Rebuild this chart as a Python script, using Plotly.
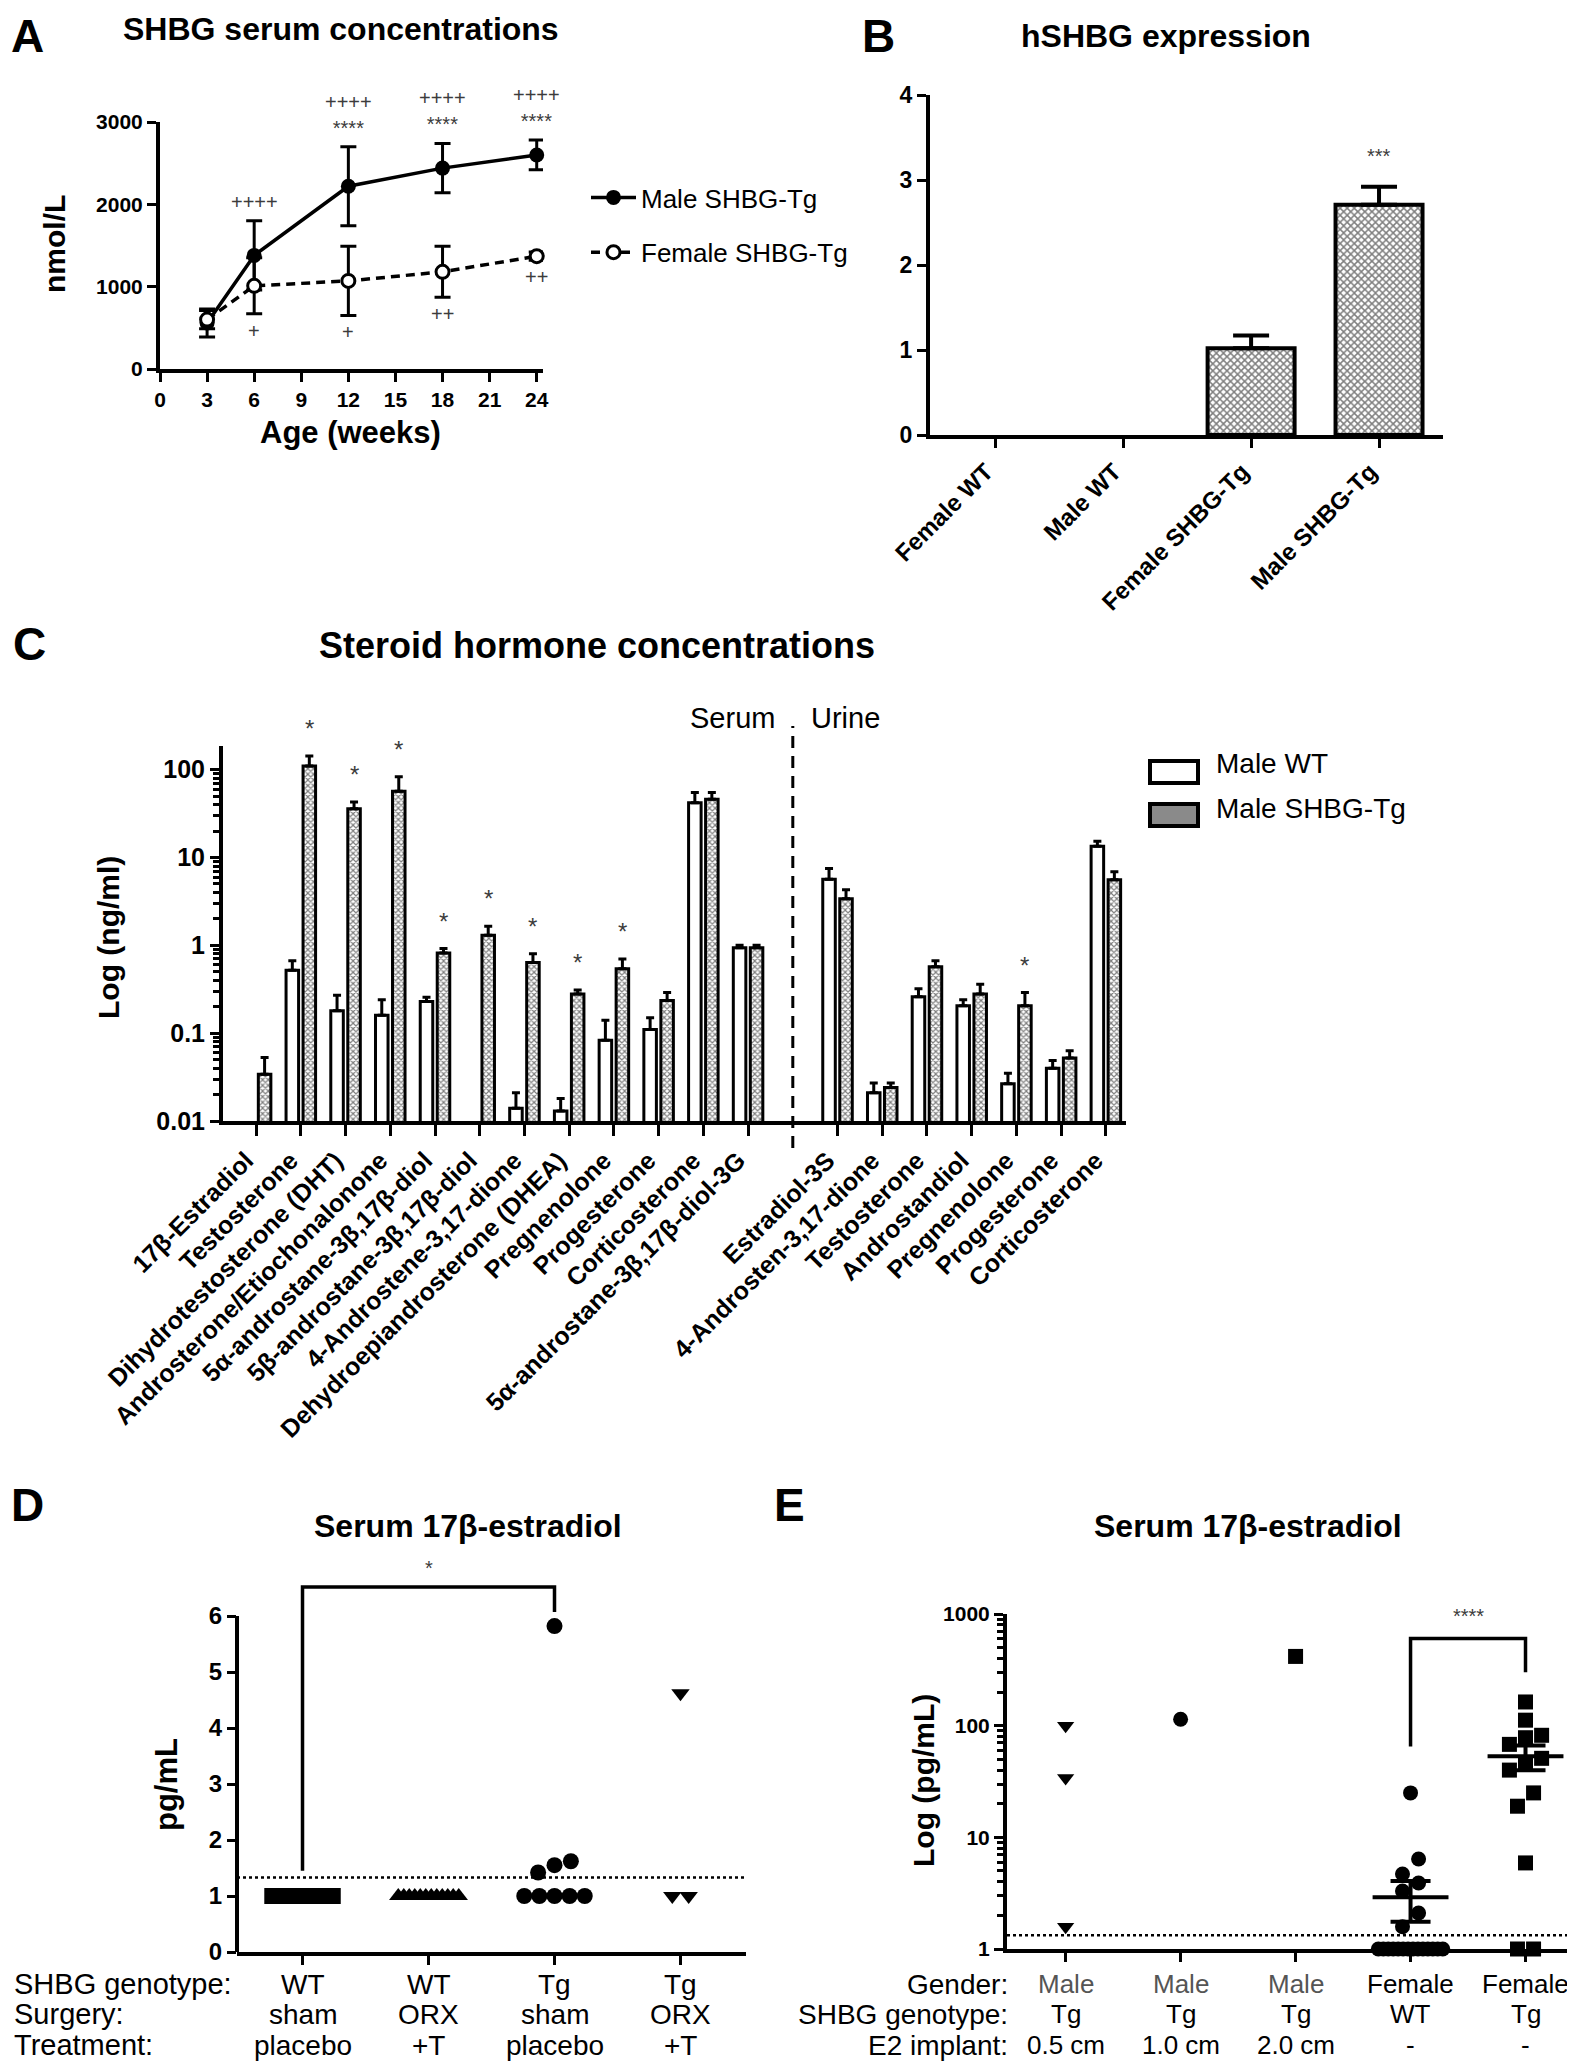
import numpy as np
import plotly.graph_objects as go

W, H = 1575, 2069
FONT = "Liberation Sans"
INK = "#000000"
SIG = "#3c3c3c"

# ================= DATA =================
# --- Panel A: SHBG serum concentrations ---
age_weeks = [3, 6, 12, 18, 24]
male_tg_shbg = [560, 1380, 2220, 2440, 2600]
male_tg_shbg_sem = [170, 420, 480, 300, 180]
female_tg_shbg = [600, 1010, 1070, 1180, 1370]
female_tg_shbg_sem = [110, 340, 420, 310, 50]
male_marks = ["", "++++", "++++<br>****", "++++<br>****", "++++<br>****"]
female_marks = ["", "+", "+", "++", "++"]
age_ticks = [0, 3, 6, 9, 12, 15, 18, 21, 24]
shbg_ticks = [0, 1000, 2000, 3000]

# --- Panel B: hSHBG expression ---
expr_groups = ["Female WT", "Male WT", "Female SHBG-Tg", "Male SHBG-Tg"]
expr_values = [None, None, 1.02, 2.71]
expr_sem = [None, None, 0.15, 0.21]
expr_marks = ["", "", "", "***"]
expr_ticks = [0, 1, 2, 3, 4]

# --- Panel C: steroid hormone concentrations (ng/ml) ---
serum_names = ["17β-Estradiol", "Testosterone", "Dihydrotestosterone (DHT)",
               "Androsterone/Etiochonalonone", "5α-androstane-3β,17β-diol",
               "5β-androstane-3β,17β-diol", "4-Androstene-3,17-dione",
               "Dehydroepiandrosterone (DHEA)", "Pregnenolone", "Progesterone",
               "Corticosterone", "5α-androstane-3β,17β-diol-3G"]
serum_wt = [None, 0.52, 0.18, 0.16, 0.23, None, 0.014, 0.013, 0.083, 0.11, 42, 0.94]
serum_wt_sem = [None, 0.15, 0.09, 0.08, 0.026, None, 0.007, 0.005, 0.057, 0.04, 13, 0.06]
serum_tg = [0.034, 110, 36, 57, 0.82, 1.3, 0.64, 0.28, 0.54, 0.235, 46, 0.94]
serum_tg_sem = [0.019, 33, 7, 26, 0.1, 0.35, 0.16, 0.03, 0.16, 0.055, 9, 0.06]
serum_marks = ["", "*", "*", "*", "*", "*", "*", "*", "*", "", "", ""]
urine_names = ["Estradiol-3S", "4-Androsten-3,17-dione", "Testosterone", "Androstandiol",
               "Pregnenolone", "Progesterone", "Corticosterone"]
urine_wt = [5.65, 0.021, 0.26, 0.205, 0.0265, 0.04, 13.4]
urine_wt_sem = [1.85, 0.006, 0.06, 0.035, 0.0085, 0.009, 1.9]
urine_tg = [3.4, 0.024, 0.57, 0.28, 0.205, 0.052, 5.6]
urine_tg_sem = [0.9, 0.003, 0.1, 0.08, 0.085, 0.011, 1.3]
urine_marks = ["", "", "", "", "*", "", ""]
conc_ticks = [0.01, 0.1, 1, 10, 100]
conc_tick_text = ["0.01", "0.1", "1", "10", "100"]
conc_series = ["Male WT", "Male SHBG-Tg"]

# --- Panel D: serum 17beta-estradiol (pg/mL) ---
d_genotype = ["WT", "WT", "Tg", "Tg"]
d_surgery = ["sham", "ORX", "sham", "ORX"]
d_treatment = ["placebo", "+T", "placebo", "+T"]
d_wt_sham = [1.0] * 12
d_wt_orx = [1.0] * 12
d_tg_sham = [1.0, 1.0, 1.0, 1.0, 1.0, 1.42, 1.55, 1.62, 5.82]
d_tg_orx = [1.0, 1.0, 4.62]
d_ticks = [0, 1, 2, 3, 4, 5, 6]
detection_limit = 1.33

# --- Panel E: serum 17beta-estradiol (pg/mL, log) ---
e_gender = ["Male", "Male", "Male", "Female", "Female"]
e_genotype = ["Tg", "Tg", "Tg", "WT", "Tg"]
e_implant = ["0.5 cm", "1.0 cm", "2.0 cm", "-", "-"]
e_male_05 = [100, 34, 1.58]
e_male_10 = [114]
e_male_20 = [417]
e_female_wt = [1.0] * 14 + [1.58, 2.1, 3.3, 3.9, 4.7, 6.4, 25]
e_female_tg = [1.0, 1.0, 5.9, 19, 25, 40, 45, 51, 68, 78, 82, 112, 163]
e_ticks = [1, 10, 100, 1000]

# ================= HELPERS =================
def X(p):
    return p / W


def Y(p):
    return 1 - p / H


def swarm(values, center, d, maxw, thresh, log=False):
    v = np.asarray(values, float)
    t = np.log10(v) if log else v
    order = np.argsort(t, kind="stable")
    xs = np.zeros(len(v))
    rows, cur = [], [order[0]]
    for i in order[1:]:
        if t[i] - t[cur[0]] < thresh:
            cur.append(i)
        else:
            rows.append(cur)
            cur = [i]
    rows.append(cur)
    for r in rows:
        n = len(r)
        w = min((n - 1) * d, maxw)
        offs = np.linspace(-w / 2, w / 2, n) if n > 1 else [0.0]
        for k, i in enumerate(r):
            xs[i] = center + offs[k]
    return xs


def axis(**kw):
    d = dict(showgrid=False, zeroline=False, showline=True, linecolor=INK, linewidth=4,
             ticks="outside", ticklen=9, tickwidth=3, tickcolor=INK, automargin=False,
             tickfont=dict(family=FONT, size=21, color=INK, weight="bold"), fixedrange=True)
    d.update(kw)
    return d


annotations = []


def text(t, x, y, size, bold=False, xref="paper", yref="paper", xa="center", ya="middle",
         angle=0, color=INK, xshift=0, yshift=0):
    annotations.append(dict(text=t, x=x, y=y, xref=xref, yref=yref, xanchor=xa, yanchor=ya,
                            textangle=angle, showarrow=False, xshift=xshift, yshift=yshift,
                            font=dict(family=FONT, size=size, color=color,
                                      weight="bold" if bold else "normal")))


fig = go.Figure()
shapes = []

# ================= PANEL A =================
err_style = dict(type="data", thickness=3, width=8, color=INK)
fig.add_trace(go.Scatter(
    x=age_weeks, y=male_tg_shbg, error_y=dict(array=male_tg_shbg_sem, **err_style),
    mode="lines+markers", line=dict(color=INK, width=3.5),
    marker=dict(symbol="circle", size=15, color=INK),
    name="Male SHBG-Tg", legendgroup="m", xaxis="x", yaxis="y", cliponaxis=False))
fig.add_trace(go.Scatter(
    x=age_weeks, y=female_tg_shbg, error_y=dict(array=female_tg_shbg_sem, **err_style),
    mode="lines+markers", line=dict(color=INK, width=3.5, dash="9px,6px"),
    marker=dict(symbol="circle", size=13, color="white", line=dict(color=INK, width=3)),
    name="Female SHBG-Tg", legendgroup="f", xaxis="x", yaxis="y", cliponaxis=False))
for xv, yv, ev, lab in zip(age_weeks, male_tg_shbg, male_tg_shbg_sem, male_marks):
    if lab:
        text(lab, xv, yv + ev, 20, xref="x", yref="y", ya="bottom", color=SIG, yshift=6)
for xv, yv, ev, lab in zip(age_weeks, female_tg_shbg, female_tg_shbg_sem, female_marks):
    if lab:
        text(lab, xv, yv - ev, 20, xref="x", yref="y", ya="top", color=SIG, yshift=-4)

# ================= PANEL B =================
pattern = dict(shape="x", size=5, solidity=0.5, fgcolor=INK, bgcolor="white")
fig.add_trace(go.Bar(
    x=list(range(len(expr_groups))), y=expr_values, width=0.68,
    marker=dict(color="white", line=dict(color=INK, width=4), pattern=pattern),
    error_y=dict(type="data", array=expr_sem, arrayminus=[0] * 4, symmetric=False,
                 thickness=4, width=18, color=INK),
    showlegend=False, xaxis="x2", yaxis="y2"))
for i, (v, e, lab) in enumerate(zip(expr_values, expr_sem, expr_marks)):
    if lab:
        text(lab, i, v + e, 20, xref="x2", yref="y2", ya="bottom", color=SIG, yshift=18)

# ================= PANEL C =================
c_x = list(range(len(serum_names))) + list(range(len(serum_names) + 1,
                                                  len(serum_names) + 1 + len(urine_names)))
c_names = serum_names + urine_names
wt_off, tg_off, bw = -0.33, 0.05, 0.28
tg_pattern = dict(shape="x", size=4, solidity=0.5, fgcolor=INK, bgcolor="white")
fig.add_trace(go.Bar(
    x=c_x, y=serum_wt + urine_wt, offset=wt_off, width=bw,
    marker=dict(color="white", line=dict(color=INK, width=3)),
    error_y=dict(type="data", array=serum_wt_sem + urine_wt_sem, arrayminus=[0] * len(c_x),
                 symmetric=False, thickness=3, width=4, color=INK),
    name=conc_series[0], showlegend=False, xaxis="x3", yaxis="y3"))
fig.add_trace(go.Bar(
    x=c_x, y=serum_tg + urine_tg, offset=tg_off, width=bw,
    marker=dict(color="white", line=dict(color=INK, width=3), pattern=tg_pattern),
    error_y=dict(type="data", array=serum_tg_sem + urine_tg_sem, arrayminus=[0] * len(c_x),
                 symmetric=False, thickness=3, width=4, color=INK),
    name=conc_series[1], showlegend=False, xaxis="x3", yaxis="y3"))
for xv, v, e, lab in zip(c_x, serum_tg + urine_tg, serum_tg_sem + urine_tg_sem,
                         serum_marks + urine_marks):
    if lab:
        text(lab, xv + tg_off + bw / 2, np.log10(v + e), 24, xref="x3", yref="y3",
             ya="bottom", color=SIG, yshift=12)
divider = len(serum_names)
shapes.append(dict(type="line", xref="x3", yref="paper", x0=divider, x1=divider,
                   y0=Y(1140), y1=Y(718), line=dict(color=INK, width=3, dash="12px,8px")))
text("Serum", divider, Y(710), 29, xref="x3", xa="right", ya="middle", xshift=-16)
text("Urine", divider, Y(710), 29, xref="x3", xa="left", ya="middle", xshift=16)
c_minor = [k * 10.0 ** e for e in range(-2, 3) for k in range(2, 10) if k * 10.0 ** e < 185]
# legend for panel C (swatches)
shapes.append(dict(type="rect", xref="paper", yref="paper", x0=X(1142), x1=X(1190),
                   y0=Y(775), y1=Y(753), fillcolor="white", line=dict(color=INK, width=4)))
shapes.append(dict(type="rect", xref="paper", yref="paper", x0=X(1142), x1=X(1190),
                   y0=Y(818), y1=Y(796), fillcolor="#8a8a8a", line=dict(color=INK, width=4)))
text(conc_series[0], X(1206), Y(756), 28, xa="left")
text(conc_series[1], X(1206), Y(800), 28, xa="left")

# ================= PANEL D =================
d_groups = [d_wt_sham, d_wt_orx, d_tg_sham, d_tg_orx]
d_symbols = ["square", "triangle-up", "circle", "triangle-down"]
for i, (vals, sym) in enumerate(zip(d_groups, d_symbols)):
    xs = swarm(vals, i, d=0.13, maxw=0.48, thresh=0.28)
    fig.add_trace(go.Scatter(x=xs, y=vals, mode="markers",
                             marker=dict(symbol=sym, size=16, color=INK, line=dict(width=0)),
                             showlegend=False, xaxis="x4", yaxis="y4", cliponaxis=False))
fig.add_trace(go.Scatter(x=[-0.52, 3.52], y=[detection_limit] * 2, mode="lines",
                         line=dict(color=INK, width=2.5, dash="dot"), showlegend=False,
                         xaxis="x4", yaxis="y4"))
d_right = max(d_tg_sham) + 0.25
d_top = d_right + 0.45
d_left = max(d_wt_sham) + 0.45
fig.add_trace(go.Scatter(x=[0, 0, 2, 2], y=[d_left, d_top, d_top, d_right], mode="lines",
                         line=dict(color=INK, width=3.5), showlegend=False,
                         xaxis="x4", yaxis="y4"))
text("*", 1, d_top, 20, xref="x4", yref="y4", ya="bottom", color=SIG, yshift=6)
shapes.append(dict(type="line", xref="x4 domain", yref="y4", x0=0, x1=0, y0=0, y1=max(d_ticks),
                   line=dict(color=INK, width=4)))

# ================= PANEL E =================
e_groups = [e_male_05, e_male_10, e_male_20, e_female_wt, e_female_tg]
e_symbols = ["triangle-down", "circle", "square", "circle", "square"]
for i, (vals, sym) in enumerate(zip(e_groups, e_symbols)):
    xs = swarm(vals, i, d=0.14, maxw=0.56, thresh=0.14, log=True)
    fig.add_trace(go.Scatter(x=xs, y=vals, mode="markers",
                             marker=dict(symbol=sym, size=15, color=INK, line=dict(width=0)),
                             showlegend=False, xaxis="x5", yaxis="y5", cliponaxis=False))
for i in (3, 4):
    vals = np.asarray(e_groups[i], float)
    m = vals.mean()
    sem = vals.std(ddof=1) / np.sqrt(len(vals))
    fig.add_trace(go.Scatter(x=[i - 0.33, i + 0.33], y=[m, m], mode="lines",
                             line=dict(color=INK, width=4), showlegend=False,
                             xaxis="x5", yaxis="y5"))
    fig.add_trace(go.Scatter(x=[i], y=[m], mode="markers",
                             marker=dict(size=1, color="rgba(0,0,0,0)"),
                             error_y=dict(type="data", array=[sem], thickness=4, width=20,
                                          color=INK),
                             showlegend=False, xaxis="x5", yaxis="y5"))
fig.add_trace(go.Scatter(x=[-0.51, 4.5], y=[detection_limit] * 2, mode="lines",
                         line=dict(color=INK, width=2.5, dash="dot"), showlegend=False,
                         xaxis="x5", yaxis="y5"))
e_right = max(e_female_tg) * 1.85
e_top = e_right * 2.0
e_left = max(e_female_wt) * 2.6
fig.add_trace(go.Scatter(x=[3, 3, 4, 4], y=[e_left, e_top, e_top, e_right], mode="lines",
                         line=dict(color=INK, width=3.5), showlegend=False,
                         xaxis="x5", yaxis="y5"))
text("****", 3.5, np.log10(e_top), 20, xref="x5", yref="y5", ya="bottom", color=SIG, yshift=10)
e_minor = [k * 10.0 ** e for e in range(0, 3) for k in range(2, 10)]

# ================= TEXT =================
# panel letters
text("A", X(1), Y(0), 46, bold=True, xa="left", ya="top")
text("B", X(852), Y(0), 46, bold=True, xa="left", ya="top")
text("C", X(3), Y(608), 46, bold=True, xa="left", ya="top")
text("D", X(1), Y(1469), 46, bold=True, xa="left", ya="top")
text("E", X(764), Y(1469), 46, bold=True, xa="left", ya="top")
# titles
text("SHBG serum concentrations", X(333), Y(21), 32, bold=True)
text("hSHBG expression", X(1158), Y(28), 32, bold=True)
text("Steroid hormone concentrations", X(589), Y(637), 36, bold=True)
text("Serum 17β-estradiol", X(460), Y(1518), 32, bold=True)
text("Serum 17β-estradiol", X(1240), Y(1518), 32, bold=True)
# axis titles
text("nmol/L", X(46), Y(236), 30, bold=True, angle=-90)
text("Age (weeks)", X(342), Y(424), 31, bold=True)
text("Log (ng/ml)", X(100), Y(930), 30, bold=True, angle=-90)
text("pg/mL", X(158), Y(1777), 31, bold=True, angle=-90)
text("Log (pg/mL)", X(915), Y(1773), 30, bold=True, angle=-90)
# panel D table
row_y = [Y(1976), Y(2006), Y(2037)]
for hdr, yy in zip(["SHBG genotype:", "Surgery:", "Treatment:"], row_y):
    text(hdr, X(4), yy, 29, xa="left")
for i in range(4):
    for lab, yy in zip([d_genotype[i], d_surgery[i], d_treatment[i]], row_y):
        text(lab, i, yy, 28, xref="x4")
# panel E table
for hdr, yy in zip(["Gender:", "SHBG genotype:", "E2 implant:"], row_y):
    text(hdr, X(1002), yy, 28, xa="right")
for i in range(5):
    for lab, yy, col in zip([e_gender[i], e_genotype[i], e_implant[i]], row_y,
                            ["#555555" if e_gender[i] == "Male" else INK, INK, INK]):
        text(lab, i, yy, 26, xref="x5", color=col)

# ================= LAYOUT =================
fig.update_layout(
    width=W, height=H, margin=dict(l=0, r=0, t=0, b=0, pad=0, autoexpand=False),
    paper_bgcolor="white", plot_bgcolor="white", barmode="overlay",
    font=dict(family=FONT, color=INK),
    showlegend=True,
    legend=dict(x=X(578), y=Y(166), xanchor="left", yanchor="top",
                font=dict(family=FONT, size=26, color=INK), itemwidth=45,
                tracegroupgap=18, bgcolor="rgba(0,0,0,0)"),
    xaxis=axis(domain=[X(152), X(535)], range=[0, 24.4], tickvals=age_ticks, anchor="y"),
    yaxis=axis(domain=[Y(361), Y(114)], range=[0, 3000], tickvals=shbg_ticks, anchor="x"),
    xaxis2=axis(domain=[X(922), X(1435)], range=[-0.51, 3.5], tickvals=[0, 1, 2, 3],
                ticktext=expr_groups, tickangle=-45, anchor="y2", ticklabelshift=-9,
                tickfont=dict(family=FONT, size=24, color=INK, weight="bold")),
    yaxis2=axis(domain=[Y(427), Y(87)], range=[0, 4], tickvals=expr_ticks, anchor="x2",
                tickfont=dict(family=FONT, size=23, color=INK, weight="bold")),
    xaxis3=axis(domain=[X(215), X(1118)], range=[-0.74, 19.45], tickvals=c_x,
                ticktext=c_names, tickangle=-45, anchor="y3", ticklen=11, ticklabelshift=-10,
                tickfont=dict(family=FONT, size=25, color=INK, weight="bold")),
    yaxis3=axis(domain=[Y(1113), Y(738)], type="log", range=[-2, 2.27], tickvals=conc_ticks,
                ticktext=conc_tick_text, anchor="x3",
                tickfont=dict(family=FONT, size=25, color=INK, weight="bold"),
                minor=dict(tickvals=c_minor, ticks="outside", ticklen=6, tickwidth=2.5,
                           tickcolor=INK, showgrid=False)),
    xaxis4=axis(domain=[X(229), X(738)], range=[-0.52, 3.52], tickvals=[0, 1, 2, 3],
                showticklabels=False, anchor="y4"),
    yaxis4=axis(domain=[Y(1944), Y(1552)], range=[0, 7], tickvals=d_ticks, showline=False,
                anchor="x4", tickfont=dict(family=FONT, size=24, color=INK, weight="bold")),
    xaxis5=axis(domain=[X(999), 1.0], range=[-0.51, 4.5], tickvals=[0, 1, 2, 3, 4],
                showticklabels=False, anchor="y5"),
    yaxis5=axis(domain=[Y(1941), Y(1606)], type="log", range=[0, 3], tickvals=e_ticks,
                ticktext=[str(v) for v in e_ticks], anchor="x5",
                tickfont=dict(family=FONT, size=21, color=INK, weight="bold"),
                minor=dict(tickvals=e_minor, ticks="outside", ticklen=6, tickwidth=2.5,
                           tickcolor=INK, showgrid=False)),
    annotations=annotations, shapes=shapes,
)

fig.write_html("out.html")
